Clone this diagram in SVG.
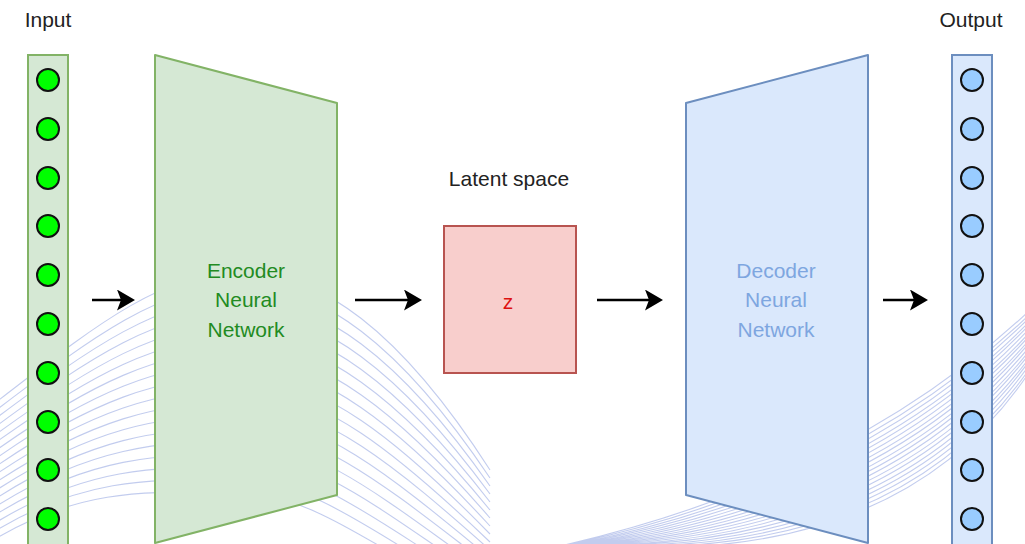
<svg xmlns="http://www.w3.org/2000/svg" width="1025" height="544" viewBox="0 0 1025 544">
<style>
.bg{fill:none;stroke:#aebbe8;stroke-width:1.1;opacity:0.75}
.lbl{font-family:"Liberation Sans",Arial,sans-serif;font-size:21px;text-anchor:middle}
.col-in{fill:#d5e8d4;stroke:#82b366;stroke-width:2}
.col-out{fill:#dae8fc;stroke:#6c8ebf;stroke-width:2}
.cin{fill:#00ff00;stroke:#111;stroke-width:2}
.cout{fill:#99ccff;stroke:#111;stroke-width:2}
.arr{stroke:#000;stroke-width:2.5;fill:none;marker-end:url(#ah)}
</style>
<defs>
<marker id="ah" viewBox="0 0 18 21" markerUnits="userSpaceOnUse" markerWidth="18" markerHeight="21" refX="10" refY="10.5" orient="auto">
<path d="M0,0 L18,10.5 L0,21 L4,10.5 z" fill="#000"/>
</marker>
</defs>
<rect width="1025" height="544" fill="#fff"/>
<g id="background-lines">
<path class="bg" d="M-5,403 C90,330 160,272 240,272 S400,330 490,470 M-5,411 C90,339 160,285 240,285 S400,344 490,478 M-5,419 C90,348 160,298 240,298 S400,358 490,486 M-5,427 C90,357 160,311 240,311 S400,372 490,494 M-5,435 C90,366 160,324 240,324 S400,386 490,502 M-5,443 C90,375 160,337 240,337 S400,400 490,510 M-5,451 C90,384 160,350 240,350 S400,414 490,518 M-5,459 C90,393 160,363 240,363 S400,428 490,526 M-5,467 C90,402 160,376 240,376 S400,442 490,534 M-5,475 C90,411 160,389 240,389 S400,456 490,542 M-5,483 C90,420 160,402 240,402 S400,470 490,550 M-5,491 C90,429 160,415 240,415 S400,484 490,558 M-5,499 C90,438 160,428 240,428 S400,498 490,566 M-5,507 C90,447 160,441 240,441 S400,512 490,574 M-5,515 C90,456 160,454 240,454 S400,526 490,582 M-5,523 C90,465 160,467 240,467 S400,540 490,590 M-5,531 C90,474 160,480 240,480 S400,554 490,598 M-5,539 C90,483 160,493 240,493 S400,568 490,606"/>
<path class="bg" d="M560,546 Q850,480 1030,310 M562,546 Q853,485 1030,314 M565,546 Q856,490 1030,317 M567,546 Q859,495 1030,321 M570,546 Q862,500 1030,324 M572,546 Q865,505 1030,328 M574,546 Q868,510 1030,332 M577,546 Q871,515 1030,335 M579,546 Q874,520 1030,339 M582,546 Q877,525 1030,342 M584,546 Q880,530 1030,346 M586,546 Q883,535 1030,350 M589,546 Q886,540 1030,353 M591,546 Q889,545 1030,357 M594,546 Q892,550 1030,360 M596,546 Q895,555 1030,364 M598,546 Q898,560 1030,368 M601,546 Q901,565 1030,371"/>
</g>
<g id="input">
<text class="lbl" x="48" y="27" fill="#222">Input</text>
<rect class="col-in" x="28" y="55" width="40" height="500"/>
<circle class="cin" cx="48" cy="80" r="11"/>
<circle class="cin" cx="48" cy="129" r="11"/>
<circle class="cin" cx="48" cy="178" r="11"/>
<circle class="cin" cx="48" cy="226" r="11"/>
<circle class="cin" cx="48" cy="275" r="11"/>
<circle class="cin" cx="48" cy="324" r="11"/>
<circle class="cin" cx="48" cy="373" r="11"/>
<circle class="cin" cx="48" cy="422" r="11"/>
<circle class="cin" cx="48" cy="470" r="11"/>
<circle class="cin" cx="48" cy="519" r="11"/>
</g>
<g id="encoder">
<polygon points="155,55 337,103 337,495 155,543" fill="#d5e8d4" stroke="#82b366" stroke-width="2" stroke-linejoin="round"/>
<text class="lbl" fill="#228b22"><tspan x="246" y="278">Encoder</tspan><tspan x="246" y="307">Neural</tspan><tspan x="246" y="337">Network</tspan></text>
</g>
<g id="latent">
<text class="lbl" x="509" y="186" fill="#222">Latent space</text>
<rect x="444" y="226" width="132" height="147" fill="#f8cecc" stroke="#b85450" stroke-width="2"/>
<text class="lbl" x="508" y="309" fill="#dd1111">z</text>
</g>
<g id="decoder">
<polygon points="686,103 868,55 868,543 686,495" fill="#dae8fc" stroke="#6c8ebf" stroke-width="2" stroke-linejoin="round"/>
<text class="lbl" fill="#7ea6e0"><tspan x="776" y="278">Decoder</tspan><tspan x="776" y="307">Neural</tspan><tspan x="776" y="337">Network</tspan></text>
</g>
<g id="output">
<text class="lbl" x="971" y="27" fill="#222">Output</text>
<rect class="col-out" x="952" y="55" width="40" height="500"/>
<circle class="cout" cx="972" cy="80" r="11"/>
<circle class="cout" cx="972" cy="129" r="11"/>
<circle class="cout" cx="972" cy="178" r="11"/>
<circle class="cout" cx="972" cy="226" r="11"/>
<circle class="cout" cx="972" cy="275" r="11"/>
<circle class="cout" cx="972" cy="324" r="11"/>
<circle class="cout" cx="972" cy="373" r="11"/>
<circle class="cout" cx="972" cy="422" r="11"/>
<circle class="cout" cx="972" cy="470" r="11"/>
<circle class="cout" cx="972" cy="519" r="11"/>
</g>
<g id="connectors">
<line class="arr" x1="92" y1="300" x2="127" y2="300"/>
<line class="arr" x1="355" y1="300" x2="414" y2="300"/>
<line class="arr" x1="597" y1="300" x2="655" y2="300"/>
<line class="arr" x1="883" y1="300" x2="920" y2="300"/>
</g>
</svg>
